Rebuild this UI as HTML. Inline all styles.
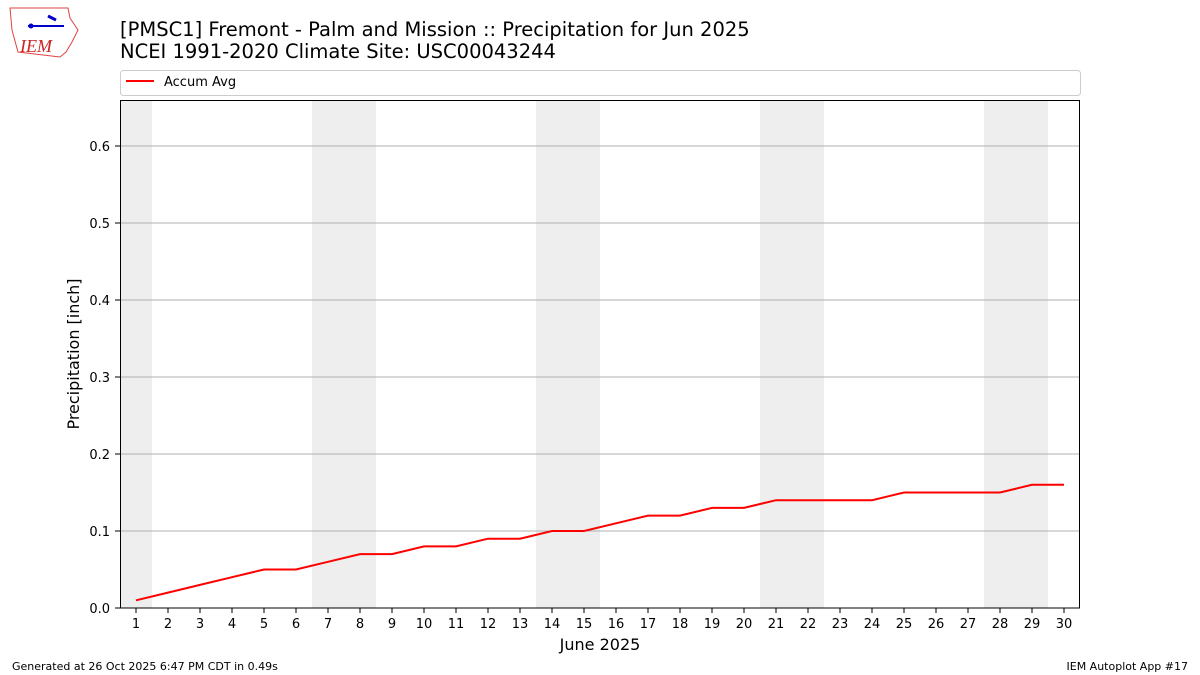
<!DOCTYPE html>
<html><head><meta charset="utf-8"><style>body{margin:0;background:#fff}svg{display:block}</style></head><body>
<svg width="1200" height="675" viewBox="0 0 1200 675" xmlns="http://www.w3.org/2000/svg" font-family="'DejaVu Sans', sans-serif">
<rect width="1200" height="675" fill="#fff"/>
<path d="M10 8 L68 8 L70 18 L78 30 L72 42 L66 52 L60 57 L18 52 L12 30 Z" fill="none" stroke="#d44" stroke-width="1"/>
<line x1="28" y1="26" x2="64" y2="26" stroke="#00c" stroke-width="2"/>
<circle cx="31" cy="26" r="2.5" fill="#00c"/>
<path d="M48 16 L56 20" stroke="#00c" stroke-width="3"/>
<text x="20" y="52" font-family="'Liberation Serif',serif" font-style="italic" font-size="18" fill="#c22">IEM</text>
<text x="120" y="36" font-size="19.5" fill="#000">[PMSC1] Fremont - Palm and Mission :: Precipitation for Jun 2025</text>
<text x="120" y="58" font-size="19.5" fill="#000">NCEI 1991-2020 Climate Site: USC00043244</text>
<rect x="120.5" y="70.5" width="960" height="25" rx="3" fill="#fff" stroke="#ccc"/>
<line x1="126" y1="81" x2="154" y2="81" stroke="#f00" stroke-width="2"/>
<text x="164" y="86" font-size="13">Accum Avg</text>
<g fill="#eee">
<rect x="120" y="100" width="32" height="508"/>
<rect x="312" y="100" width="64" height="508"/>
<rect x="536" y="100" width="64" height="508"/>
<rect x="760" y="100" width="64" height="508"/>
<rect x="984" y="100" width="64" height="508"/>
</g>
<g stroke="#b0b0b0" stroke-width="1">
<line x1="120" x2="1080" y1="531" y2="531"/><line x1="120" x2="1080" y1="454" y2="454"/>
<line x1="120" x2="1080" y1="377" y2="377"/><line x1="120" x2="1080" y1="300" y2="300"/>
<line x1="120" x2="1080" y1="223" y2="223"/><line x1="120" x2="1080" y1="146" y2="146"/>
</g>
<polyline fill="none" stroke="#f00" stroke-width="2" points="136,600.3 168,592.6 200,584.9 232,577.2 264,569.5 296,569.5 328,561.8 360,554.1 392,554.1 424,546.4 456,546.4 488,538.7 520,538.7 552,531 584,531 616,523.3 648,515.6 680,515.6 712,507.9 744,507.9 776,500.2 808,500.2 840,500.2 872,500.2 904,492.5 936,492.5 968,492.5 1000,492.5 1032,484.8 1064,484.8"/>
<rect x="120.5" y="100.5" width="959" height="507.5" fill="none" stroke="#000"/>
<g font-size="13" text-anchor="end">
<text x="110" y="613">0.0</text><text x="110" y="536">0.1</text><text x="110" y="459">0.2</text><text x="110" y="382">0.3</text><text x="110" y="305">0.4</text><text x="110" y="228">0.5</text><text x="110" y="151">0.6</text>
</g>
<g stroke="#000"><line x1="115" x2="120" y1="608" y2="608"/><line x1="115" x2="120" y1="531" y2="531"/><line x1="115" x2="120" y1="454" y2="454"/><line x1="115" x2="120" y1="377" y2="377"/><line x1="115" x2="120" y1="300" y2="300"/><line x1="115" x2="120" y1="223" y2="223"/><line x1="115" x2="120" y1="146" y2="146"/></g>
<g font-size="13" text-anchor="middle">
<text x="136" y="628">1</text><text x="168" y="628">2</text><text x="200" y="628">3</text><text x="232" y="628">4</text><text x="264" y="628">5</text><text x="296" y="628">6</text><text x="328" y="628">7</text><text x="360" y="628">8</text><text x="392" y="628">9</text><text x="424" y="628">10</text><text x="456" y="628">11</text><text x="488" y="628">12</text><text x="520" y="628">13</text><text x="552" y="628">14</text><text x="584" y="628">15</text><text x="616" y="628">16</text><text x="648" y="628">17</text><text x="680" y="628">18</text><text x="712" y="628">19</text><text x="744" y="628">20</text><text x="776" y="628">21</text><text x="808" y="628">22</text><text x="840" y="628">23</text><text x="872" y="628">24</text><text x="904" y="628">25</text><text x="936" y="628">26</text><text x="968" y="628">27</text><text x="1000" y="628">28</text><text x="1032" y="628">29</text><text x="1064" y="628">30</text>
</g>
<path stroke="#000" d="M136 608v5M168 608v5M200 608v5M232 608v5M264 608v5M296 608v5M328 608v5M360 608v5M392 608v5M424 608v5M456 608v5M488 608v5M520 608v5M552 608v5M584 608v5M616 608v5M648 608v5M680 608v5M712 608v5M744 608v5M776 608v5M808 608v5M840 608v5M872 608v5M904 608v5M936 608v5M968 608v5M1000 608v5M1032 608v5M1064 608v5"/>
<text x="600" y="650" font-size="16" text-anchor="middle">June 2025</text>
<text transform="translate(79,354) rotate(-90)" font-size="16" text-anchor="middle">Precipitation [inch]</text>
<text x="12" y="670" font-size="11">Generated at 26 Oct 2025 6:47 PM CDT in 0.49s</text>
<text x="1188" y="670" font-size="11" text-anchor="end">IEM Autoplot App #17</text>
</svg>
</body></html>
